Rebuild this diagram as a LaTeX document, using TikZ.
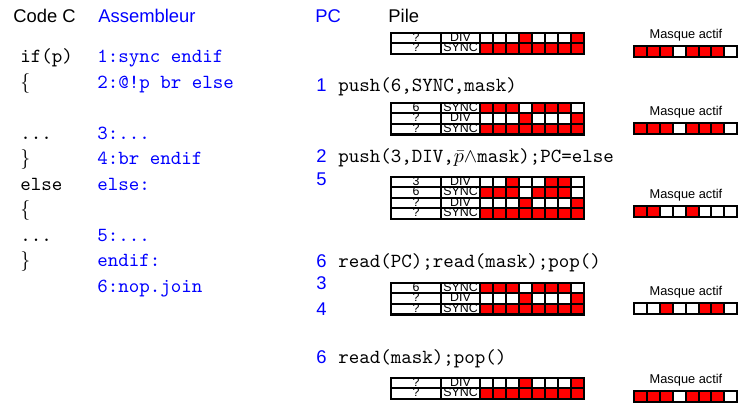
\documentclass[tikz,border=0pt]{standalone}
\usepackage{fontspec}
\usepackage{tikz}
\newfontfamily\hv{Liberation Sans}
\colorlet{R}{red}
\colorlet{W}{white}
\tikzset{
  hdr/.style={font=\hv\fontsize{9.2}{11}\selectfont, anchor=base west, inner sep=0},
  code/.style={font=\ttfamily\fontsize{10}{12}\selectfont, anchor=base west, inner sep=0},
  asm/.style={code, text=blue},
  num/.style={hdr, text=blue},
  celltxt/.style={font=\hv\fontsize{6.2}{7}\selectfont, anchor=base, inner sep=0},
  mtxt/.style={font=\hv\fontsize{6.4}{7}\selectfont, inner sep=0},
  cell/.style={draw=black, line width=1pt},
  outerbox/.style={draw=black, line width=1.3pt},
}
\newcommand\pilerow[5]{%
  \node[celltxt] (#1a) at (416,#2+8.5) {#3};
  \node[celltxt] (#1b) at (460.5,#2+8.5) {#4};
  \draw[cell] (391,#2) rectangle ++(50,10.5);
  \draw[cell] (441,#2) rectangle ++(39,10.5);
  \foreach \c [count=\i from 0] in {#5} \filldraw[cell, fill=\c] (480+13*\i,#2) rectangle ++(13,10.5);
}
\newcommand\masque[3]{%
  \node[mtxt] (#1) at (686,#2-11) {Masque actif};
  \foreach \c [count=\i from 0] in {#3} \filldraw[cell, fill=\c] (634+12.9*\i,#2) rectangle ++(12.9,11);
}
\begin{document}
\begin{tikzpicture}[x=0.5pt,y=-0.5pt]
\useasboundingbox (0,0) rectangle (740,405);
% headers
\node[hdr] (hc) at (13,22.5) {Code C};
\node[hdr, text=blue] (ha) at (98,22.5) {Assembleur};
\node[hdr, text=blue] (hpc) at (315,22.5) {PC};
\node[hdr] (hp) at (388,22.5) {Pile};
% C code
\node[code] (c1) at (20,63) {if(p)};
\node[code] (c2) at (20,88.5) {\rmfamily\{};
\node[code] (c3) at (20,139.5) {...};
\node[code] (c4) at (20,165) {\rmfamily\}};
\node[code] (c5) at (20,190.5) {else};
\node[code] (c6) at (20,216) {\rmfamily\{};
\node[code] (c7) at (20,241.5) {...};
\node[code] (c8) at (20,267) {\rmfamily\}};
% assembler
\node[asm] (a1) at (97,63) {1:sync endif};
\node[asm] (a2) at (97,88.5) {2:@!p br else};
\node[asm] (a3) at (97,139.5) {3:...};
\node[asm] (a4) at (97,165) {4:br endif};
\node[asm] (a5) at (97,190.5) {else:};
\node[asm] (a6) at (97,241.5) {5:...};
\node[asm] (a7) at (97,267) {endif:};
\node[asm] (a8) at (97,292.5) {6:nop.join};
% step labels
\node[num] (n1) at (316,91.5) {1};
\node[code] (t1) at (338,91.5) {push(6,SYNC,mask)};
\node[num] (n2) at (316,163) {2};
\node[code] (t2) at (338,163) {push(3,DIV,$\bar{p}\wedge$mask);PC=else};
\node[num] (n5) at (316,186) {5};
\node[num] (n6) at (316,267.5) {6};
\node[code] (t3) at (338,267.5) {read(PC);read(mask);pop()};
\node[num] (n3) at (316,290) {3};
\node[num] (n4) at (316,316) {4};
\node[num] (n6b) at (316,363.5) {6};
\node[code] (t4) at (338,363.5) {read(mask);pop()};
% stack 1
\pilerow{sa}{33}{?}{DIV}{W,W,W,R,W,W,W,R}
\pilerow{sb}{43.5}{?}{SYNC}{R,R,R,R,R,R,R,R}
\draw[outerbox] (391,33) rectangle (584,54);
\masque{m1}{46}{R,R,R,W,R,R,R,W}
% stack 2
\pilerow{sc}{103}{6}{SYNC}{R,R,R,W,R,R,R,W}
\pilerow{sd}{113.5}{?}{DIV}{W,W,W,R,W,W,W,R}
\pilerow{se}{124}{?}{SYNC}{R,R,R,R,R,R,R,R}
\draw[outerbox] (391,103) rectangle (584,134.5);
\masque{m2}{123.5}{R,R,R,W,R,R,R,W}
% stack 3
\pilerow{sf}{177}{3}{DIV}{W,W,R,W,W,R,R,W}
\pilerow{sg}{187.5}{6}{SYNC}{R,R,R,W,R,R,R,W}
\pilerow{sh}{198}{?}{DIV}{W,W,W,R,W,W,W,R}
\pilerow{si}{208.5}{?}{SYNC}{R,R,R,R,R,R,R,R}
\draw[outerbox] (391,177) rectangle (584,219);
\masque{m3}{206}{R,R,W,W,R,W,W,W}
% stack 4
\pilerow{sj}{283}{6}{SYNC}{R,R,R,W,R,R,R,W}
\pilerow{sk}{293.5}{?}{DIV}{W,W,W,R,W,W,W,R}
\pilerow{sl}{304}{?}{SYNC}{R,R,R,R,R,R,R,R}
\draw[outerbox] (391,283) rectangle (584,314.5);
\masque{m4}{303.5}{W,W,R,W,W,R,R,W}
% stack 5
\pilerow{sm}{378}{?}{DIV}{W,W,W,R,W,W,W,R}
\pilerow{sn}{388.5}{?}{SYNC}{R,R,R,R,R,R,R,R}
\draw[outerbox] (391,378) rectangle (584,399);
\masque{m5}{391}{R,R,R,W,R,R,R,W}
\end{tikzpicture}
\end{document}
